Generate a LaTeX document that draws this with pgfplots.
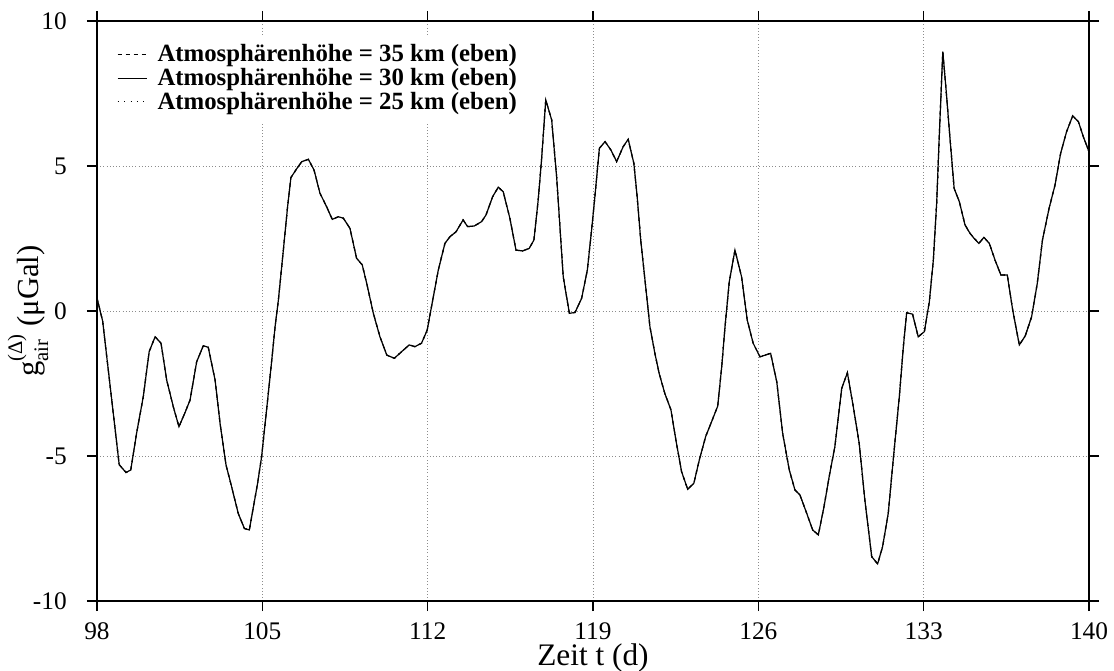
\documentclass[border=0pt]{standalone}
\usepackage{fontspec}
\setmainfont{Liberation Serif}
\usepackage{pgfplots}
\pgfplotsset{compat=1.18}
\usepackage{pgfplotstable}

% Atmospheric attraction residual, 6-hourly (time in days, value in microGal)
\pgfplotstableread{
t y
98.00 0.45
98.24 -0.35
98.94 -5.30
99.23 -5.57
99.43 -5.48
99.68 -4.20
99.96 -2.95
100.21 -1.40
100.46 -0.89
100.71 -1.11
100.95 -2.38
101.23 -3.30
101.47 -3.99
101.73 -3.50
101.94 -3.07
102.22 -1.75
102.50 -1.20
102.71 -1.25
103.00 -2.38
103.21 -3.87
103.46 -5.30
103.70 -6.06
103.98 -6.98
104.24 -7.50
104.45 -7.55
104.65 -6.63
104.80 -5.94
104.97 -5.02
105.18 -3.41
105.40 -1.69
105.54 -0.54
105.68 0.38
105.89 2.10
106.07 3.60
106.21 4.60
106.45 4.90
106.67 5.15
106.95 5.23
107.19 4.86
107.44 4.06
107.72 3.60
107.96 3.16
108.22 3.25
108.43 3.20
108.71 2.85
108.99 1.82
109.23 1.59
109.42 0.95
109.70 -0.08
109.98 -0.89
110.27 -1.52
110.59 -1.63
110.90 -1.40
111.22 -1.17
111.46 -1.23
111.74 -1.11
111.98 -0.66
112.24 0.49
112.45 1.41
112.73 2.33
112.94 2.56
113.20 2.73
113.50 3.14
113.69 2.91
113.97 2.93
114.28 3.08
114.47 3.31
114.75 3.94
114.99 4.27
115.20 4.11
115.48 3.20
115.74 2.10
116.02 2.07
116.30 2.16
116.50 2.45
116.68 3.83
116.82 5.20
117.00 7.28
117.25 6.59
117.46 4.63
117.74 1.18
118.00 -0.08
118.24 -0.05
118.52 0.44
118.76 1.41
118.94 2.79
119.08 3.94
119.27 5.61
119.51 5.84
119.76 5.55
120.00 5.15
120.28 5.67
120.49 5.92
120.73 5.09
120.87 3.94
121.02 2.45
121.20 1.07
121.41 -0.54
121.62 -1.46
121.80 -2.15
122.04 -2.84
122.30 -3.41
122.51 -4.45
122.75 -5.54
123.01 -6.15
123.27 -5.94
123.50 -5.14
123.77 -4.33
124.02 -3.82
124.28 -3.28
124.45 -1.92
124.59 -0.54
124.77 1.01
125.01 2.10
125.29 1.18
125.53 -0.31
125.78 -1.11
126.07 -1.58
126.52 -1.46
126.78 -2.44
127.03 -4.22
127.31 -5.48
127.55 -6.17
127.76 -6.34
128.05 -6.98
128.30 -7.55
128.54 -7.72
128.78 -6.75
129.00 -5.71
129.24 -4.68
129.53 -2.67
129.77 -2.13
130.02 -3.30
130.27 -4.56
130.51 -6.52
130.80 -8.47
131.05 -8.72
131.26 -8.13
131.50 -6.98
131.71 -5.14
131.97 -2.95
132.14 -1.23
132.28 -0.06
132.53 -0.11
132.77 -0.89
133.03 -0.71
133.24 0.32
133.41 1.76
133.55 3.71
133.66 6.01
133.81 8.94
133.95 7.62
134.12 5.90
134.29 4.23
134.51 3.77
134.75 2.97
134.96 2.68
135.13 2.51
135.34 2.33
135.55 2.54
135.78 2.33
136.02 1.76
136.27 1.24
136.54 1.24
136.77 0.03
137.05 -1.17
137.30 -0.86
137.57 -0.20
137.81 0.95
138.03 2.45
138.31 3.54
138.56 4.34
138.80 5.44
139.05 6.18
139.31 6.73
139.55 6.53
139.76 6.01
140.00 5.49
}\gairdata

\begin{document}
\begin{tikzpicture}
% fixed page frame around the 744pt x 435pt plotting area
\path[use as bounding box] (-72.75pt,-52.5pt) rectangle (762.75pt,450.75pt);
\begin{axis}[
  scale only axis,
  width=744pt, height=435pt,
  xmin=98, xmax=140, ymin=-10, ymax=10,
  xtick={98,105,112,119,126,133,140},
  ytick={-10,-5,0,5,10},
  /pgf/number format/assume math mode=true,
  tick label style={font=\fontsize{19}{21}\selectfont},
  xticklabel style={yshift=-5pt},
  yticklabel style={inner xsep=15pt},
  tick align=outside,
  major tick length=7.5pt,
  tick style={line width=0.9pt, black},
  axis line style={line width=1.9pt},
  grid=major,
  grid style={dotted, line width=0.6pt, black!45},
  xlabel={Zeit t (d)},
  xlabel style={font=\fontsize{23.5}{26}\selectfont,
    at={(axis description cs:0.5,-0.1105)}, anchor=base},
  ylabel={g\rlap{\raisebox{-0.3em}{\fontsize{15.5}{15.5}\selectfont air}}\raisebox{0.55em}{\fontsize{15.5}{15.5}\selectfont(Δ)} (μGal)},
  ylabel style={font=\fontsize{23}{25}\selectfont,
    at={(axis description cs:-0.0585,0.5)}, anchor=base},
  legend style={
    at={(rel axis cs:0.0094,0.976)}, anchor=north west,
    draw=none, fill=white,
    inner xsep=8pt, inner ysep=7pt,
    font=\bfseries\fontsize{18.6}{20}\selectfont,
    nodes={inner sep=0pt},
    row sep=3.5pt,
    /tikz/every odd column/.append style={column sep=7.5pt},
  },
  legend cell align=left,
  legend image code/.code={\draw[#1, line width=0.7pt] (0pt,0pt) -- (22pt,0pt);},
]
\addplot[black, line width=0.9pt, dash pattern=on 3pt off 3pt] table[x=t, y=y] {\gairdata};
\addlegendentry{Atmosphärenhöhe = 35 km (eben)}
\addplot[black, line width=0.9pt] table[x=t, y=y] {\gairdata};
\addlegendentry{Atmosphärenhöhe = 30 km (eben)}
\addplot[black, line width=0.9pt, dash pattern=on 0.8pt off 4pt] table[x=t, y=y] {\gairdata};
\addlegendentry{Atmosphärenhöhe = 25 km (eben)}
\end{axis}
\end{tikzpicture}
\end{document}
